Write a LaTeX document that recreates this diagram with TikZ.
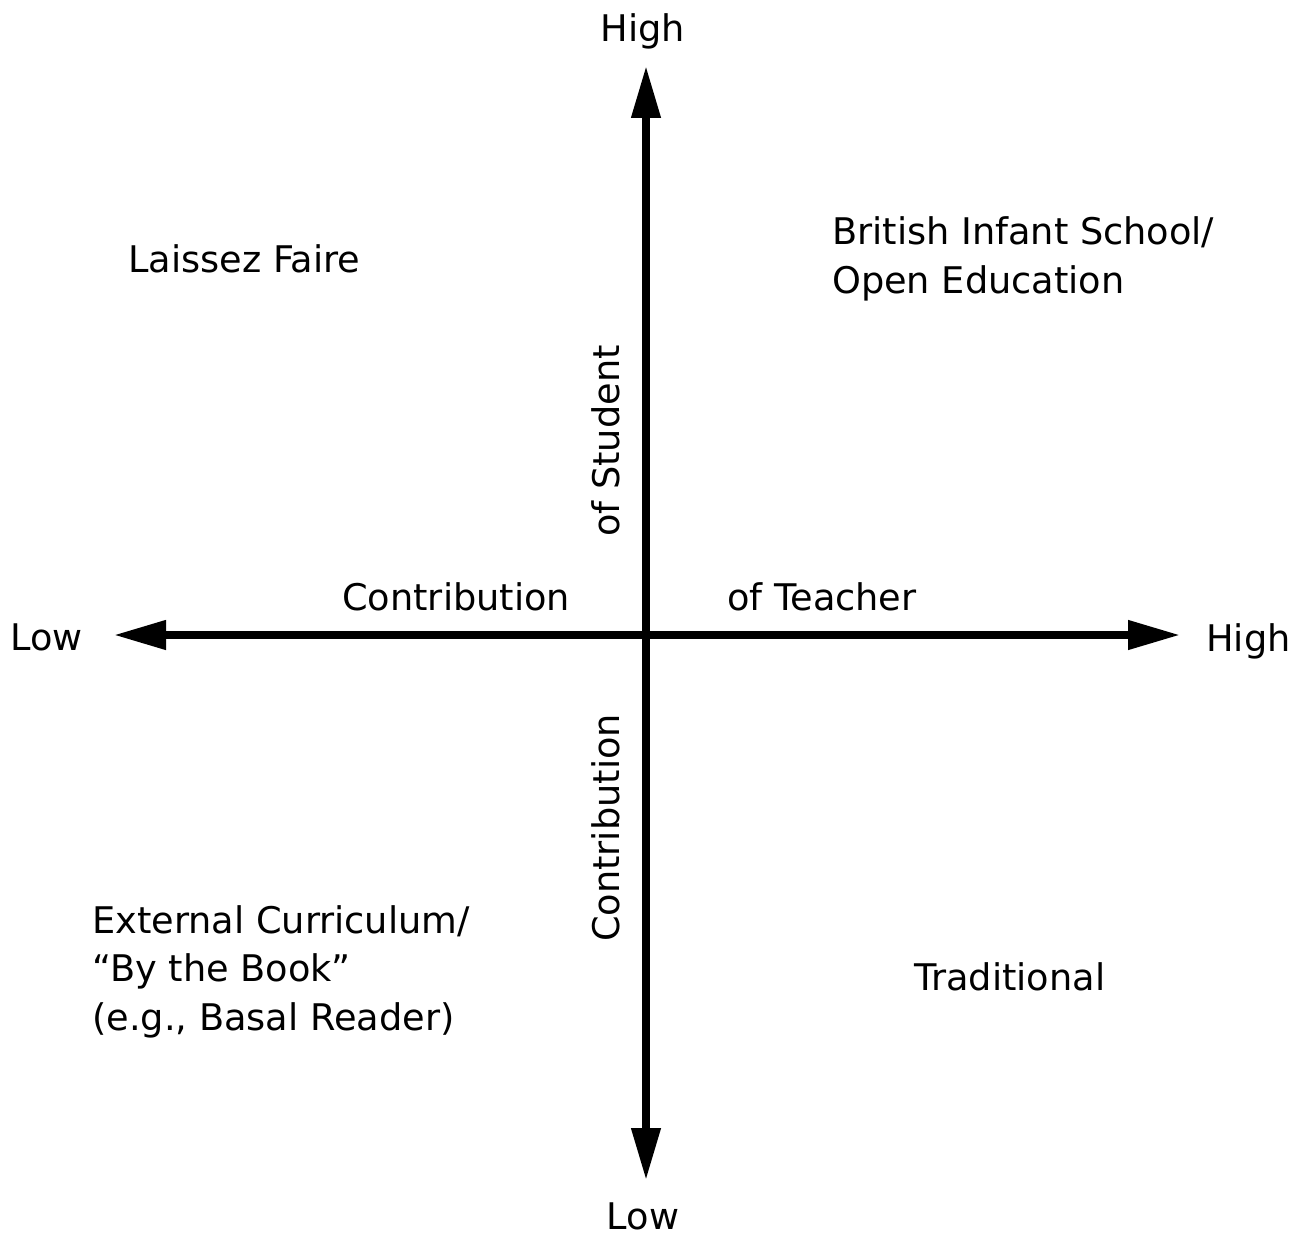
\documentclass[tikz,border=0pt]{standalone}
\usepackage{fontspec}
\setmainfont{DejaVu Sans}
\usetikzlibrary{arrows.meta}
\begin{document}
\begin{tikzpicture}[x=1pt,y=-1pt,
  axis/.style={line width=7.5pt,{Triangle[length=52pt,width=28pt]}-{Triangle[length=52pt,width=28pt]}},
  lbl/.style={inner sep=0pt,font=\fontsize{36.7}{48.5}\selectfont},
  vlbl/.style={lbl,rotate=90,anchor=base}]
\useasboundingbox (0,0) rectangle (1294,1236);
% axis ends
\coordinate (top) at (646,66);
\coordinate (bot) at (646,1180);
\coordinate (left) at (114,635);
\coordinate (right) at (1180,635);
\draw[axis] (left) -- (right);
\draw[axis] (bot) -- (top);
% axis end labels
\node[lbl,anchor=base] (hightop) at (643,42) {High};
\node[lbl,anchor=base] (lowbot) at (643,1229) {Low};
\node[lbl,anchor=base west] (lowleft) at (10,650) {Low};
\node[lbl,anchor=base west] (highright) at (1206,651) {High};
% axis titles
\node[lbl,anchor=base west] (contribh) at (342,610) {Contribution};
\node[lbl,anchor=base west] (teacher) at (727,610) {of Teacher};
\node[vlbl] (student) at (619,441) {of Student};
\node[vlbl] (contribv) at (619,828) {Contribution};
% quadrant labels
\node[lbl,anchor=base west] (laissez) at (128,272) {Laissez Faire};
\node[lbl,anchor=base west,align=left] (british) at (832,293) {British Infant School/\\Open Education};
\node[lbl,anchor=base west,align=left] (external) at (92,1030) {External Curriculum/\\“By the Book”\\(e.g., Basal Reader)};
\node[lbl,anchor=base west] (traditional) at (914,990) {Traditional};
\end{tikzpicture}
\end{document}
